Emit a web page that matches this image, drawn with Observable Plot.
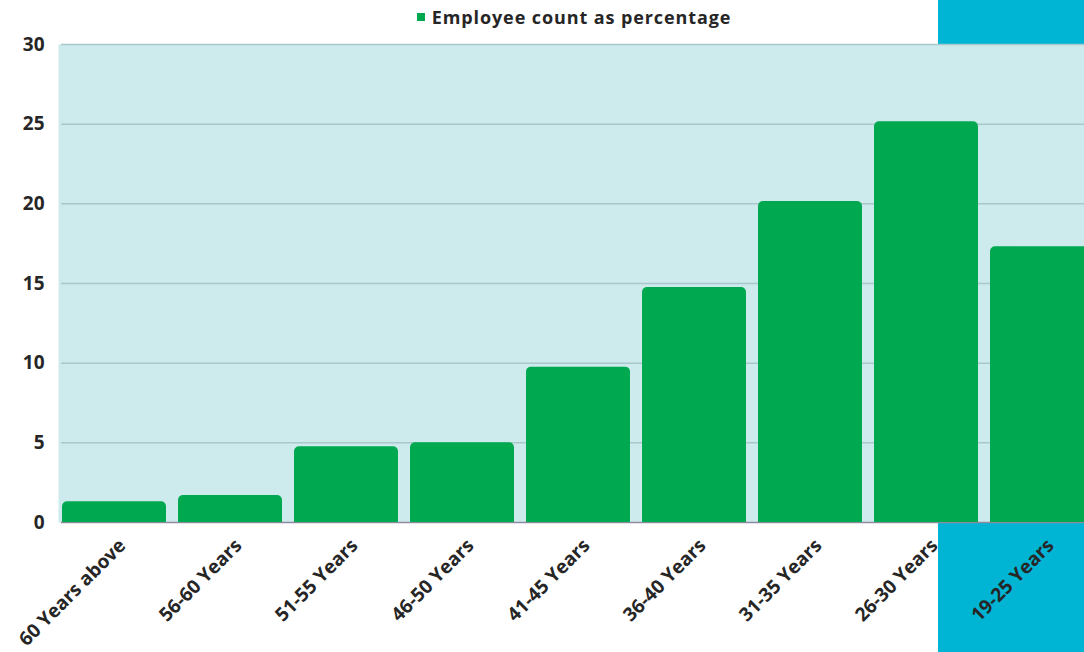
<!DOCTYPE html>
<html>
<head>
<meta charset="utf-8">
<script src="https://cdn.jsdelivr.net/npm/d3@7"></script>
<script src="https://cdn.jsdelivr.net/npm/@observablehq/plot@0.6"></script>
<style>
  html, body { margin: 0; padding: 0; background: #ffffff; }
  #wrap { position: relative; width: 1084px; height: 652px; overflow: hidden; font-family: "Open Sans", Lato, sans-serif; }
  #highlight { position: absolute; left: 938px; top: 0; width: 146px; height: 652px; background: #00b4d4; }
  #legend { position: relative; height: 24px; padding-top: 10px; box-sizing: border-box; display: flex; align-items: center; justify-content: center; padding-left: 64px;
            font-weight: 700; font-size: 18px; letter-spacing: 0.9px; color: #262626; line-height: 1; }
  #legend .sw { display: inline-block; width: 8px; height: 8px; background: #00a94f; margin-right: 7px; }
  #chart { position: relative; }
  #chart svg { background: transparent !important; }
</style>
</head>
<body>
<div id="wrap">
  <div id="highlight"></div>
  <div id="legend"><span class="sw"></span><span>Employee count as percentage</span></div>
  <div id="chart"></div>
</div>
<script>
// Age bands, oldest first
const ageGroups = [
  "60 Years above", "56-60 Years", "51-55 Years", "46-50 Years", "41-45 Years",
  "36-40 Years", "31-35 Years", "26-30 Years", "19-25 Years"
];
// Share of employees in each band (%)
const employeePercent = [1.3, 1.7, 4.75, 5.0, 9.75, 14.75, 20.15, 25.15, 17.3];
// Value axis ticks
const yTicks = [0, 5, 10, 15, 20, 25, 30];

const data = ageGroups.map((g, i) => ({group: g, pct: employeePercent[i]}));

const chart = Plot.plot({
  width: 1084,
  height: 628,
  marginTop: 20,
  marginLeft: 58,
  marginRight: 0,
  marginBottom: 130,
  style: {background: "transparent", fontFamily: "'Open Sans', Lato, sans-serif", overflow: "visible"},
  x: {domain: ageGroups, range: [56, 1100], paddingInner: 0.1034, paddingOuter: 0.0517},
  y: {domain: [0, 30], ticks: yTicks},
  marks: [
    Plot.frame({fill: "#cdeaed", stroke: null}),
    Plot.ruleY(yTicks.filter(t => t > 0), {stroke: "#a9c8cb", strokeWidth: 1.5, insetLeft: 3}),
    Plot.ruleY([0], {stroke: "#8e8aa0", strokeWidth: 1.5, insetLeft: 3}),
    Plot.barY(data, {x: "group", y: "pct", fill: "#00a94f", rx: 5, insetBottom: -8, clip: "frame"}),
    Plot.axisY({ticks: yTicks, tickSize: 0, tickPadding: 14, fontSize: 19, fontWeight: 700, fill: "#262626", label: null}),
    Plot.axisX({tickSize: 0, tickRotate: -45, tickPadding: 20, fontSize: 19, fontWeight: 700, fill: "#262626", label: null, dx: 8})
  ]
});
document.getElementById("chart").appendChild(chart);
</script>
</body>
</html>
